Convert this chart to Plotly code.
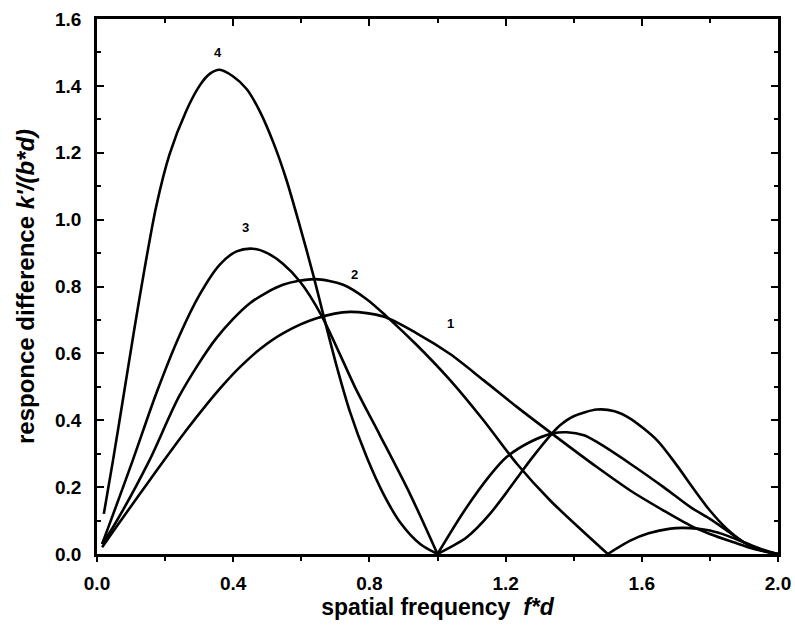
import plotly.graph_objects as go

# ---- data ----
f1 = [0.015, 0.056, 0.10, 0.15, 0.204, 0.26, 0.321, 0.37, 0.419, 0.48, 0.546, 0.645, 0.743,
      0.841, 0.939, 1.037, 1.135, 1.233, 1.336, 1.468, 1.566, 1.664, 1.743, 1.80, 1.87, 1.93, 2.0]
v1 = [0.02, 0.08, 0.143, 0.214, 0.29, 0.367, 0.446, 0.505, 0.558, 0.614, 0.66, 0.705, 0.724,
      0.71, 0.66, 0.598, 0.52, 0.44, 0.36, 0.26, 0.19, 0.13, 0.085, 0.06, 0.035, 0.015, 0.0]

f2 = [0.015, 0.047, 0.154, 0.243, 0.35, 0.449, 0.546, 0.640, 0.723, 0.792, 0.851, 0.939,
      1.037, 1.135, 1.233, 1.331, 1.43, 1.50,
      1.566, 1.62, 1.684, 1.72, 1.762, 1.80, 1.85, 1.90, 1.95, 2.0]
v2 = [0.03, 0.08, 0.28, 0.475, 0.645, 0.75, 0.805, 0.822, 0.805, 0.762, 0.71, 0.625,
      0.52, 0.40, 0.27, 0.16, 0.065, 0.0,
      0.04, 0.062, 0.076, 0.078, 0.076, 0.07, 0.055, 0.035, 0.015, 0.0]

f3 = [0.015, 0.037, 0.105, 0.174, 0.243, 0.301, 0.36, 0.41, 0.458, 0.50, 0.546, 0.596,
      0.659, 0.762, 0.831, 0.919, 1.0,
      1.076, 1.154, 1.203, 1.272, 1.336, 1.38, 1.43, 1.468, 1.566, 1.664, 1.743, 1.80,
      1.85, 1.90, 1.95, 2.0]
v3 = [0.03, 0.09, 0.28, 0.48, 0.655, 0.775, 0.865, 0.905, 0.913, 0.90, 0.868, 0.815,
      0.714, 0.49, 0.355, 0.18, 0.0,
      0.125, 0.235, 0.29, 0.335, 0.36, 0.364, 0.355, 0.335, 0.27, 0.20, 0.14, 0.105,
      0.07, 0.035, 0.012, 0.0]

f4 = [0.02, 0.047, 0.079, 0.11, 0.14, 0.174, 0.213, 0.262, 0.301, 0.33, 0.36, 0.40, 0.44,
      0.48, 0.52, 0.556, 0.596, 0.635, 0.666, 0.703, 0.743, 0.792, 0.841, 0.89, 0.949, 1.0,
      1.086, 1.154, 1.243, 1.272, 1.336, 1.36, 1.40, 1.468, 1.52, 1.566, 1.645, 1.703, 1.752,
      1.80, 1.85, 1.90, 1.95, 2.0]
v4 = [0.12, 0.28, 0.48, 0.675, 0.855, 1.04, 1.195, 1.325, 1.40, 1.435, 1.448, 1.428, 1.39,
      1.32, 1.225, 1.12, 0.98, 0.835, 0.71, 0.565, 0.425, 0.29, 0.18, 0.095, 0.03, 0.0,
      0.05, 0.12, 0.24, 0.28, 0.36, 0.385, 0.412, 0.432, 0.427, 0.405, 0.34, 0.265, 0.195,
      0.13, 0.075, 0.035, 0.012, 0.0]

curve_names = ["1", "2", "3", "4"]
label_x = [1.037, 0.757, 0.437, 0.356]
label_y = [0.69, 0.835, 0.975, 1.50]

x_ticks = [0.0, 0.4, 0.8, 1.2, 1.6, 2.0]
x_minor = [0.2, 0.6, 1.0, 1.4, 1.8]
y_ticks = [0.0, 0.2, 0.4, 0.6, 0.8, 1.0, 1.2, 1.4, 1.6]

FONT = "Liberation Sans, Arial, Helvetica, sans-serif"


def lobes(xs, ys):
    """Split a curve at its interior zeros so each lobe keeps a sharp minimum."""
    parts, start = [], 0
    for i in range(1, len(xs) - 1):
        if ys[i] == 0.0:
            parts.append((xs[start:i + 1], ys[start:i + 1]))
            start = i
    parts.append((xs[start:], ys[start:]))
    return parts


fig = go.Figure()
for fx, vy, name in zip([f1, f2, f3, f4], [v1, v2, v3, v4], curve_names):
    for px, py in lobes(fx, vy):
        fig.add_trace(go.Scatter(x=px, y=py, mode="lines", name=name,
                                 line=dict(color="black", width=2.6, shape="spline",
                                           smoothing=0.8),
                                 showlegend=False, hoverinfo="skip"))

# dummy trace for the mirrored (top/right) axes
fig.add_trace(go.Scatter(x=[None], y=[None], xaxis="x2", yaxis="y2", showlegend=False,
                         hoverinfo="skip"))

for name, lx, ly in zip(curve_names, label_x, label_y):
    fig.add_annotation(x=lx, y=ly, text=name, showarrow=False,
                       font=dict(family=FONT, size=13, color="black", weight="bold"))

fig.update_layout(
    width=795, height=631,
    margin=dict(l=97, r=17, t=19, b=77),
    paper_bgcolor="white", plot_bgcolor="white",
    font=dict(family=FONT, color="black"),
    xaxis=dict(range=[0, 2.0], tickvals=x_ticks, ticktext=[f"{t:.1f}" for t in x_ticks],
               ticks="outside", ticklen=5, tickwidth=2, tickcolor="black",
               minor=dict(tickvals=x_minor, ticks="outside", ticklen=4,
                          tickwidth=2, tickcolor="black"),
               showline=True, linewidth=2.5, linecolor="black", mirror=False,
               showgrid=False, zeroline=False, ticklabelstandoff=5, automargin=False,
               tickfont=dict(size=19, weight="bold"),
               title=dict(text="spatial frequency  <i>f*d</i>", standoff=7,
                          font=dict(size=23, weight="bold"))),
    yaxis=dict(range=[0, 1.6], tickvals=y_ticks, ticktext=[f"{t:.1f}" for t in y_ticks],
               ticks="inside", ticklen=7, tickwidth=2, tickcolor="black",
               minor=dict(dtick=0.1, ticks="inside", ticklen=4, tickwidth=2, tickcolor="black"),
               showline=True, linewidth=2.5, linecolor="black", mirror=False,
               showgrid=False, zeroline=False, ticklabelstandoff=9, automargin=False,
               tickfont=dict(size=19, weight="bold"),
               title=dict(text="responce difference <i>k'/(b*d)</i>", standoff=14,
                          font=dict(size=24, weight="bold"))),
    xaxis2=dict(range=[0, 2.0], overlaying="x", side="top", anchor="y",
                tickvals=x_ticks, ticks="inside", ticklen=7, tickwidth=2, tickcolor="black",
                minor=dict(tickvals=x_minor, ticks="inside", ticklen=4,
                           tickwidth=2, tickcolor="black"),
                showticklabels=False, showline=True, linewidth=2.5, linecolor="black",
                showgrid=False, zeroline=False, automargin=False),
    yaxis2=dict(range=[0, 1.6], overlaying="y", side="right", anchor="x",
                tickvals=y_ticks, ticks="inside", ticklen=7, tickwidth=2, tickcolor="black",
                minor=dict(dtick=0.1, ticks="inside", ticklen=4, tickwidth=2, tickcolor="black"),
                showticklabels=False, showline=True, linewidth=2.5, linecolor="black",
                showgrid=False, zeroline=False, automargin=False),
)

fig.write_html("out.html", config={"displayModeBar": False},
               post_script="document.body.style.margin='0px';document.body.style.overflow='hidden';")
